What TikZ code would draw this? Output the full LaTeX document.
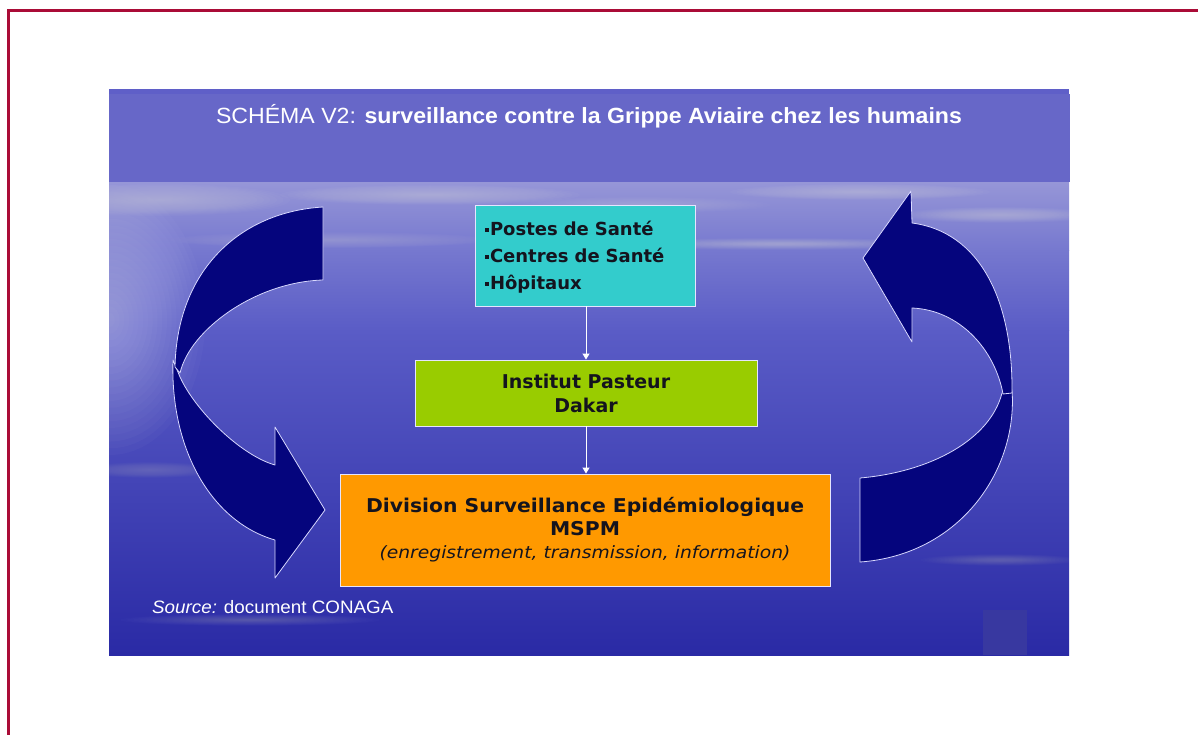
\documentclass[tikz,border=0pt]{standalone}
\usepackage{fontspec}
\setmainfont{Liberation Sans}
\newfontfamily\dejavu{DejaVu Sans}
\usetikzlibrary{arrows.meta}
\definecolor{framered}{RGB}{170,12,55}
\definecolor{bandblue}{RGB}{103,103,200}
\definecolor{stripblue}{RGB}{95,95,200}
\definecolor{topsky}{RGB}{150,150,215}
\definecolor{horizon}{RGB}{118,120,207}
\definecolor{upsea}{RGB}{90,92,198}
\definecolor{deepsea}{RGB}{42,42,165}
\definecolor{navyarrow}{RGB}{5,5,125}
\definecolor{boxcyan}{RGB}{51,204,204}
\definecolor{boxgreen}{RGB}{153,204,0}
\definecolor{boxorange}{RGB}{255,153,0}
\definecolor{cornersq}{RGB}{56,56,160}
\definecolor{boxtext}{RGB}{20,20,30}
\newcommand\softglow[5]{%
  \foreach \k in {1,...,20} {\fill[white, opacity=#5] (#1,#2) ellipse ({#3*\k/20} and {#4*\k/20});}}
\tikzset{
  boxstyle/.style={draw=white!90!blue, line width=0.9pt, text=boxtext, inner sep=0pt, font=\dejavu\bfseries},
  link/.style={draw=white, line width=1pt, -{Triangle[width=7pt,length=6pt]}},
  ribbon/.style={fill=navyarrow, draw=white!85!blue, line width=0.8pt, line join=round}
}
\begin{document}
\begin{tikzpicture}[x=1pt,y=-1pt]
\useasboundingbox (0,0) rectangle (1198,735);
% page frame
\draw[framered, line width=3pt] (8.5,735) -- (8.5,11) -- (1198,11);
% slide background
\shade[top color=topsky, bottom color=horizon] (109,182) rectangle (1069,250.5);
\shade[top color=horizon, bottom color=upsea] (109,250) rectangle (1069,330.5);
\shade[top color=upsea, bottom color=deepsea] (109,330) rectangle (1069,655);
\begin{scope}
\clip (109,182) rectangle (1069,655);
\softglow{110}{320}{95}{135}{0.025}
\softglow{160}{200}{130}{16}{0.02}
\softglow{430}{195}{150}{10}{0.02}
\softglow{640}{205}{130}{8}{0.016}
\softglow{860}{192}{130}{8}{0.02}
\softglow{1000}{215}{100}{8}{0.02}
\softglow{780}{244}{170}{6}{0.02}
\softglow{330}{240}{160}{8}{0.016}
\softglow{150}{470}{70}{8}{0.012}
\softglow{250}{620}{130}{6}{0.012}
\softglow{1000}{560}{80}{6}{0.012}
\end{scope}
% top strip and title band
\fill[stripblue] (109,89) rectangle (1069,94);
\fill[bandblue] (109,94) rectangle (1070,182);
\node[text=white, inner sep=0pt, font=\fontsize{22}{26}\selectfont] (title) at (589,116)
  {\scalebox{1.05}[1]{SCHÉMA V2: \textbf{surveillance contre la Grippe Aviaire chez les humains}}};
% corner square
\fill[cornersq] (983,610) rectangle (1027,655);
% source
\node[text=white, anchor=west, inner sep=0pt, font=\fontsize{18}{21}\selectfont] (source) at (152,607)
  {\scalebox{1.045}[1]{\textit{Source:} document CONAGA}};
% left curved arrow
\path[ribbon] (173,360) .. controls (170,450) and (212,522) .. (275,540)
  -- (275,578) -- (325,510) -- (275,427) -- (275,465)
  .. controls (240,455) and (195,410) .. (180,377) -- cycle;
\path[ribbon] (323,207) .. controls (240,212) and (177,270) .. (175,367)
  -- (180,373) .. controls (190,330) and (255,282) .. (323,280) -- cycle;
% right curved arrow
\path[ribbon] (860,478) .. controls (930,472) and (990,440) .. (1002,393)
  -- (1012,390) .. controls (1018,470) and (960,555) .. (860,562) -- cycle;
\path[ribbon] (863,258) -- (911,191) -- (912,223)
  .. controls (980,232) and (1013,300) .. (1012,393)
  -- (1003,394) .. controls (995,350) and (960,310) .. (912,308)
  -- (912,342) -- cycle;
% boxes
\node[boxstyle, fill=boxcyan, minimum width=220pt, minimum height=101pt,
      text width=200pt, align=left, font=\dejavu\bfseries\fontsize{18}{27}\selectfont] (posts) at (585,255.5)
  {\rule{0pt}{17pt}\raisebox{3.5pt}{\rule{4pt}{4pt}}\hspace{1pt}Postes de Santé\\
   \raisebox{3.5pt}{\rule{4pt}{4pt}}\hspace{1pt}Centres de Santé\\
   \raisebox{3.5pt}{\rule{4pt}{4pt}}\hspace{1pt}Hôpitaux};
\node[boxstyle, fill=boxgreen, minimum width=342pt, minimum height=66pt,
      align=center, font=\dejavu\bfseries\fontsize{19}{24}\selectfont] (pasteur) at (586,393)
  {Institut Pasteur\\Dakar};
\node[boxstyle, fill=boxorange, minimum width=490pt, minimum height=112pt,
      align=center, font=\dejavu\fontsize{19}{23}\selectfont] (dse) at (585,530)
  {\scalebox{1.07}[1]{\textbf{Division Surveillance Epidémiologique}}\\
   \scalebox{1.07}[1]{\textbf{MSPM}}\\
   {\fontsize{17}{23}\selectfont\scalebox{1.1}[1]{\itshape (enregistrement, transmission, information)}}};
% connectors
\draw[link] (posts.south -| pasteur.north) -- (pasteur.north);
\draw[link] (pasteur.south) -- (pasteur.south |- dse.north);
\end{tikzpicture}
\end{document}
